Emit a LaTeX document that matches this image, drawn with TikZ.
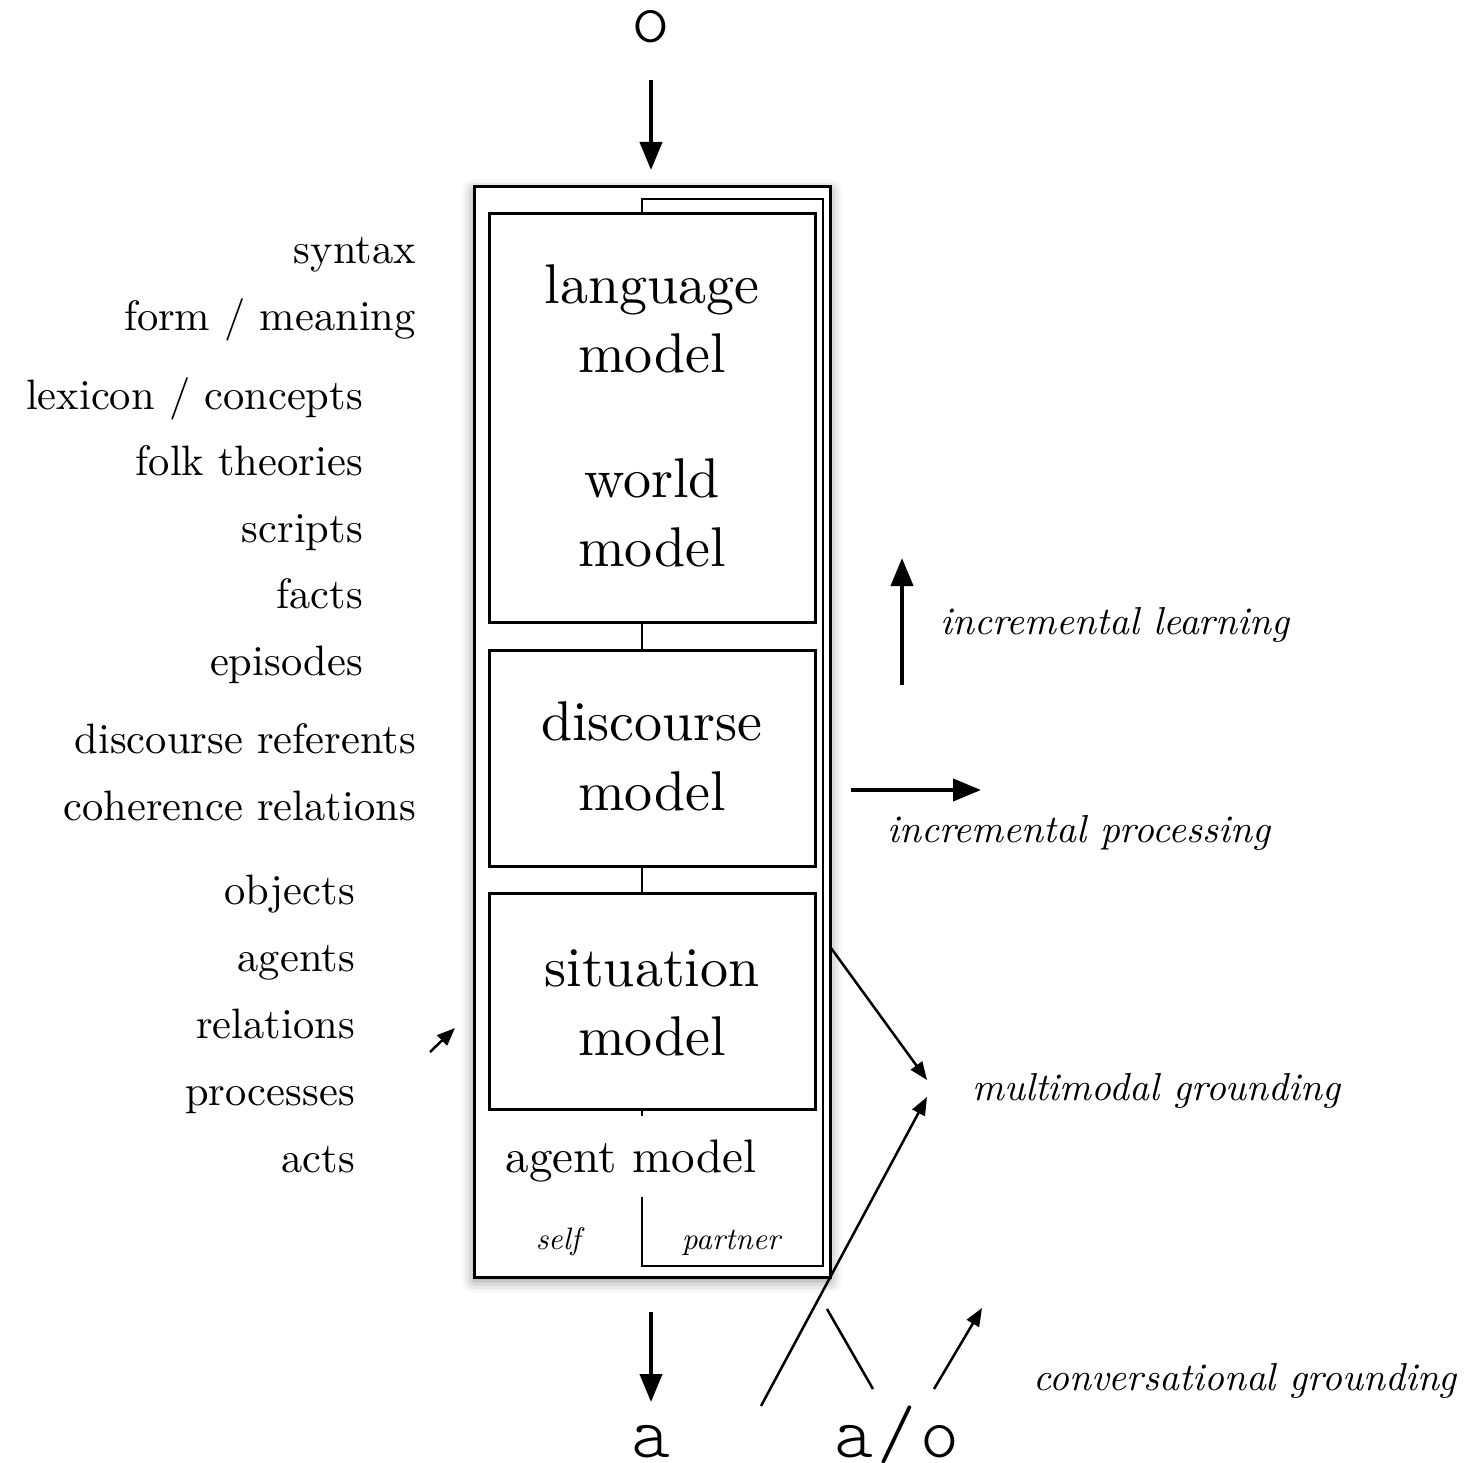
\documentclass[tikz,border=0pt]{standalone}
\usepackage{fontspec}
\setmainfont{lmroman10-regular.otf}[ItalicFont=lmroman10-italic.otf,BoldFont=lmroman10-bold.otf]
\setmonofont{lmmonolt10-regular.otf}
\usetikzlibrary{arrows.meta,shadows.blur,calc}

\begin{document}
\begin{tikzpicture}[x=1pt,y=-1pt,
  outerframe/.style={draw,line width=3pt,fill=white,inner sep=0pt,outer sep=0pt,
    blur shadow={shadow xshift=0pt,shadow yshift=-4pt,shadow blur radius=12pt,shadow opacity=45}},
  modelbox/.style={draw,line width=3pt,inner sep=0pt,outer sep=0pt,minimum width=326pt},
  linkline/.style={line width=2.5pt},
  title/.style={font=\fontsize{56}{60}\selectfont,anchor=base,inner sep=0pt},
  sidelabel/.style={font=\fontsize{42.5}{46}\selectfont,anchor=base east,inner sep=0pt},
  flowlabel/.style={font=\fontsize{39}{42}\selectfont\itshape,anchor=base west,inner sep=0pt},
  sym/.style={font=\fontsize{74}{76}\selectfont\ttfamily\addfontfeature{LetterSpace=6},
    anchor=base,inner sep=0pt,text height=0.45em,text depth=0pt},
  bigarrow/.style={line width=4pt,-{Triangle[length=28pt,width=22pt]}},
  thinarrow/.style={line width=2.5pt,-{Triangle[length=18pt,width=14pt]}},
  plainline/.style={line width=2.5pt}]

\useasboundingbox (0,0) rectangle (1474,1463);

% main frame and the three stacked models
\node[outerframe,minimum width=356pt,minimum height=1090pt] (frame) at (652,732) {};
\node[modelbox,minimum height=408pt] (lang) at (652,418) {};
\node[modelbox,minimum height=216pt] (disc) at (652,758) {};
\node[modelbox,minimum height=216pt] (sit) at (652,1001) {};

\coordinate (spine) at (642,0);

% partner outline wrapping the right side
\coordinate (ptop) at (823,199);
\coordinate (pbot) at (823,1266);
\coordinate (pinner) at (642,1197);
\draw[linkline] (lang.north -| spine) |- (ptop) -- (pbot) -| (pinner);

% links between the models
\draw[linkline] (lang.south -| spine) -- (disc.north -| spine);
\draw[linkline] (disc.south -| spine) -- (sit.north -| spine);
\coordinate (agenttick) at (642,1116);
\draw[linkline] (sit.south -| spine) -- (agenttick);

% titles inside the frame
\node[title] (t1) at (652,303) {language};
\node[title] (t2) at (652,372) {model};
\node[title] (t3) at (652,497) {world};
\node[title] (t4) at (652,566) {model};
\node[title] (t5) at (652,740) {discourse};
\node[title] (t6) at (652,810) {model};
\node[title] (t7) at (652,986) {situation};
\node[title] (t8) at (652,1055) {model};
\node[title,font=\fontsize{47}{50}\selectfont] (agent) at (631,1172) {agent model};
\node[font=\fontsize{31}{34}\selectfont\itshape,anchor=base,inner sep=0pt] (self) at (558,1249) {self};
\node[font=\fontsize{31}{34}\selectfont\itshape,anchor=base,inner sep=0pt] (partner) at (731,1249) {partner};

% left-hand labels
\node[sidelabel] (l1) at (416,264) {syntax};
\node[sidelabel] (l2) at (416,330) {form / meaning};
\node[sidelabel] (l3) at (363,409) {lexicon / concepts};
\node[sidelabel] (l4) at (363,475) {folk theories};
\node[sidelabel] (l5) at (363,542) {scripts};
\node[sidelabel] (l6) at (363,608) {facts};
\node[sidelabel] (l7) at (363,675) {episodes};
\node[sidelabel] (l8) at (416,753) {discourse referents};
\node[sidelabel] (l9) at (416,820) {coherence relations};
\node[sidelabel] (l10) at (355,904) {objects};
\node[sidelabel] (l11) at (355,971) {agents};
\node[sidelabel] (l12) at (355,1038) {relations};
\node[sidelabel] (l13) at (355,1105) {processes};
\node[sidelabel] (l14) at (355,1172) {acts};

% observation in, action out
\node[sym] (obs) at (651,43) {o};
\node[sym] (act) at (651,1457) {a};
\node[sym] (actobs) at (897,1457) {a/o};
\coordinate (obsarrowtop) at (651,80);
\draw[bigarrow] (obsarrowtop) -- ($(frame.north -| obs)+(0,-17)$);
\coordinate (actarrowtop) at (651,1312);
\coordinate (actarrowtip) at (651,1402);
\draw[bigarrow] (actarrowtop) -- (actarrowtip);

% right-hand process labels
\coordinate (learnfoot) at (902,685);
\coordinate (learntip) at (902,558);
\draw[bigarrow] (learnfoot) -- (learntip);
\node[flowlabel] (learn) at (940,634) {incremental learning};
\coordinate (procfoot) at (851,790);
\coordinate (proctip) at (981,790);
\draw[bigarrow] (procfoot) -- (proctip);
\node[flowlabel] (proc) at (887,842) {incremental processing};

% grounding
\node[flowlabel] (mmg) at (972,1100) {multimodal grounding};
\node[flowlabel] (cvg) at (1033,1390) {conversational grounding};
\coordinate (sitout) at (831,948);
\coordinate (mmgin1) at (927,1080);
\draw[thinarrow] (sitout) -- (mmgin1);
\coordinate (aofoot) at (761,1406);
\coordinate (mmgin2) at (927,1097);
\draw[thinarrow] (aofoot) -- (mmgin2);
\coordinate (backtop) at (827,1309);
\coordinate (backfoot) at (873,1389);
\draw[plainline] (backtop) -- (backfoot);
\coordinate (cvgfoot) at (934,1389);
\coordinate (cvgtip) at (982,1308);
\draw[thinarrow] (cvgfoot) -- (cvgtip);

% small arrow pointing at the situation model
\coordinate (smallfoot) at (430,1052);
\coordinate (smalltip) at (455,1028);
\draw[thinarrow] (smallfoot) -- (smalltip);

\end{tikzpicture}
\end{document}
